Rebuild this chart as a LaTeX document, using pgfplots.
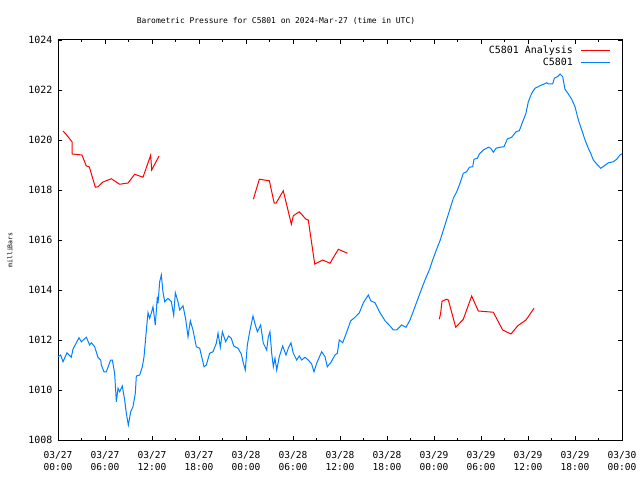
\documentclass[border=0pt]{standalone}
\usepackage{fontspec}
\setmainfont{DejaVu Sans Mono}
\usepackage{pgfplots}
\pgfplotsset{compat=1.18}
\definecolor{cred}{RGB}{255,0,0}
\definecolor{cblue}{RGB}{0,128,255}
\begin{document}
\begin{tikzpicture}
\useasboundingbox (-58bp,-40bp) rectangle (582bp,440bp);
\begin{axis}[
  at={(0,0)}, anchor=south west,
  scale only axis, width=564bp, height=400bp,
  xmin=0, xmax=72, ymin=1008, ymax=1024,
  xtick={0,6,...,72},
  xticklabels={{03/27\\00:00},{03/27\\06:00},{03/27\\12:00},{03/27\\18:00},{03/28\\00:00},{03/28\\06:00},{03/28\\12:00},{03/28\\18:00},{03/29\\00:00},{03/29\\06:00},{03/29\\12:00},{03/29\\18:00},{03/30\\00:00}},
  minor x tick num=1,
  ytick={1008,1010,...,1024},
  yticklabel style={/pgf/number format/1000 sep={}, font=\fontsize{10}{12}\selectfont, xshift=-2bp},
  /pgf/number format/assume math mode=true,
  font=\fontsize{10}{12}\selectfont,
  xticklabel style={align=center, font=\fontsize{9.6}{12}\selectfont, yshift=-8bp},
  tick style={black, line width=0.8bp},
  major tick length=4bp, minor tick length=2bp,
  axis line style={line width=1bp},
  title={Barometric Pressure for C5801 on 2024-Mar-27 (time in UTC)},
  title style={at={(218bp,420bp)}, anchor=center, yshift=-7bp, font=\fontsize{8}{10}\selectfont},
  ylabel={milliBars},
  ylabel style={at={(rel axis cs:0,0.5)}, yshift=48bp, xshift=-10bp, anchor=center, font=\fontsize{6.5}{8}\selectfont},
  unbounded coords=jump,
  clip=false,
]
\addplot[cred, line width=1bp] coordinates {
(0.64,1020.36) (1.0,1020.24) (1.79,1019.93) (1.79,1019.44) (3.06,1019.40) (3.6,1018.97) (4.0,1018.92)
(4.77,1018.11) (5.1,1018.13) (5.74,1018.32) (6.8,1018.45) (7.87,1018.23) (8.94,1018.28) (9.79,1018.63)
(10.85,1018.51) (11.83,1019.39) (11.96,1018.80) (12.9,1019.36)
(13.5,nan)
(24.94,1017.63) (25.7,1018.43) (26.3,1018.40) (26.98,1018.37) (27.6,1017.47) (27.83,1017.47) (28.76,1017.97)
(29.79,1016.63) (30.04,1016.97) (30.8,1017.13) (31.66,1016.83) (31.95,1016.80) (32.77,1015.04) (33.79,1015.20)
(34.72,1015.07) (35.79,1015.63) (36.94,1015.47)
(40,nan)
(48.68,1012.83) (48.85,1013.07) (49.02,1013.55) (49.62,1013.63) (49.83,1013.60) (50.77,1012.51) (51.74,1012.83)
(52.81,1013.76) (53.66,1013.16) (55.57,1013.11) (56.77,1012.40) (57.83,1012.24) (58.69,1012.57) (59.74,1012.80)
(60.77,1013.27)
};
\addplot[cblue, line width=1bp] coordinates {
(0,1011.33) (0.34,1011.4) (0.64,1011.13) (1.15,1011.49) (1.7,1011.31) (1.91,1011.63) (2.68,1012.09)
(2.98,1011.93) (3.62,1012.11) (4.04,1011.8) (4.26,1011.89) (4.68,1011.73) (5.1,1011.31) (5.45,1011.2)
(5.53,1011.0) (5.87,1010.73) (6.17,1010.73) (6.72,1011.2) (6.94,1011.2) (7.23,1010.67) (7.45,1009.53)
(7.66,1010.07) (7.87,1009.93) (8.21,1010.16) (8.51,1009.6) (8.72,1009.07) (8.98,1008.6) (9.28,1009.13)
(9.57,1009.33) (9.87,1009.87) (10.0,1010.56) (10.43,1010.6) (10.77,1010.93) (10.98,1011.33) (11.15,1011.93)
(11.28,1012.4) (11.49,1013.09) (11.7,1012.87) (11.91,1013.07) (12.13,1013.33) (12.42,1012.6) (12.68,1013.73)
(12.77,1013.47) (12.98,1014.33) (13.19,1014.6) (13.4,1013.93) (13.62,1013.53) (14.04,1013.67) (14.47,1013.53)
(14.77,1012.99) (14.98,1013.89) (15.32,1013.53) (15.53,1013.2) (15.96,1013.37) (16.3,1012.83) (16.6,1012.13)
(16.89,1012.77) (17.23,1012.4) (17.66,1011.73) (18.09,1011.67) (18.64,1010.93) (18.94,1011.0) (19.36,1011.47)
(19.79,1011.53) (20.21,1011.87) (20.43,1012.27) (20.72,1011.71) (20.98,1012.33) (21.4,1011.93) (21.79,1012.16)
(22.12,1012.07) (22.43,1011.76) (22.98,1011.67) (23.4,1011.44) (23.62,1011.13) (23.91,1010.8) (24.17,1011.8)
(24.47,1012.33) (24.89,1012.96) (25.19,1012.6) (25.45,1012.33) (25.87,1012.6) (26.21,1011.87) (26.64,1011.6)
(26.85,1012.13) (27.06,1012.33) (27.28,1011.47) (27.49,1010.93) (27.7,1011.27) (27.92,1010.8) (28.25,1011.33)
(28.68,1011.76) (29.11,1011.4) (29.4,1011.67) (29.74,1011.89) (30.04,1011.47) (30.47,1011.2) (30.8,1011.36)
(31.11,1011.2) (31.53,1011.31) (31.95,1011.2) (32.38,1011.04) (32.68,1010.73) (33.02,1011.07) (33.66,1011.53)
(34.09,1011.33) (34.38,1010.93) (34.81,1011.09) (35.36,1011.4) (35.66,1011.47) (35.91,1012.0) (36.34,1011.89)
(36.77,1012.24) (37.37,1012.77) (37.92,1012.91) (38.47,1013.09) (38.98,1013.49) (39.62,1013.8) (39.92,1013.57)
(40.47,1013.49) (41.11,1013.09) (41.75,1012.77) (42.47,1012.53) (42.81,1012.4) (43.24,1012.4) (43.87,1012.6)
(44.43,1012.51) (44.94,1012.8) (45.57,1013.33) (46.21,1013.87) (46.85,1014.4) (47.4,1014.8) (47.83,1015.2)
(48.3,1015.6) (48.8,1016.0) (49.3,1016.5) (49.8,1017.0) (50.2,1017.4) (50.47,1017.67) (50.9,1017.93)
(51.32,1018.27) (51.74,1018.67) (52.17,1018.73) (52.51,1018.91) (52.94,1018.93) (53.11,1019.23) (53.53,1019.27)
(53.79,1019.44) (54.3,1019.6) (54.94,1019.71) (55.24,1019.67) (55.57,1019.51) (55.92,1019.67) (56.43,1019.71)
(56.94,1019.73) (57.36,1020.04) (57.92,1020.11) (58.47,1020.33) (58.89,1020.37) (59.32,1020.73) (59.74,1021.07)
(60.04,1021.53) (60.47,1021.87) (60.89,1022.07) (61.45,1022.16) (62.04,1022.24) (62.39,1022.29) (62.6,1022.24)
(63.15,1022.24) (63.36,1022.47) (63.74,1022.53) (64.09,1022.64) (64.43,1022.53) (64.72,1022.03) (65.15,1021.84)
(65.58,1021.63) (66.0,1021.33) (66.43,1020.8) (66.86,1020.4) (67.28,1020.0) (67.7,1019.67) (68.0,1019.47)
(68.34,1019.2) (68.77,1019.04) (69.28,1018.87) (69.7,1018.96) (70.26,1019.09) (70.89,1019.13) (71.32,1019.23)
(71.74,1019.4) (72.0,1019.45)
};
% legend
\draw[cred, line width=1.3bp] (rel axis cs:0.9273,0.97375) -- (rel axis cs:0.9787,0.97375);
\draw[cblue, line width=1.3bp] (rel axis cs:0.9273,0.94375) -- (rel axis cs:0.9787,0.94375);
\node[anchor=mid east, inner sep=0pt, font=\fontsize{10}{12}\selectfont] at (rel axis cs:0.9131,0.972) {C5801 Analysis};
\node[anchor=mid east, inner sep=0pt, font=\fontsize{10}{12}\selectfont] at (rel axis cs:0.9131,0.942) {C5801};
\end{axis}
\end{tikzpicture}
\end{document}
